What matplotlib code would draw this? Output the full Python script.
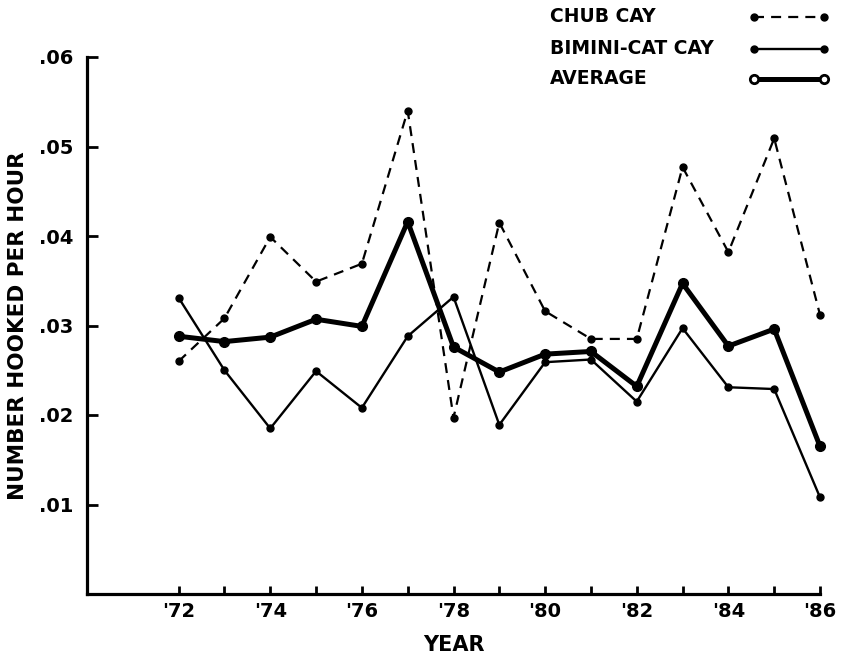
import numpy as np
import matplotlib
matplotlib.use("Agg")
import matplotlib.pyplot as plt
from matplotlib.lines import Line2D

# values
years = np.arange(1972, 1987)
chub_cay = [0.0260, 0.0308, 0.0399, 0.0349, 0.0369, 0.0540, 0.0197, 0.0415,
            0.0316, 0.0285, 0.0285, 0.0477, 0.0382, 0.0509, 0.0312]
bimini_cat_cay = [0.0331, 0.0250, 0.0185, 0.0249, 0.0208, 0.0288, 0.0332, 0.0189,
                  0.0259, 0.0262, 0.0215, 0.0297, 0.0231, 0.0229, 0.0108]
average = [0.0288, 0.0282, 0.0287, 0.0307, 0.0299, 0.0416, 0.0276, 0.0248,
           0.0268, 0.0271, 0.0232, 0.0347, 0.0277, 0.0296, 0.0165]
y_ticks = [0.01, 0.02, 0.03, 0.04, 0.05, 0.06]
y_labels = [".01", ".02", ".03", ".04", ".05", ".06"]
x_label_years = [1972, 1974, 1976, 1978, 1980, 1982, 1984, 1986]
legend_names = ["CHUB CAY", "BIMINI-CAT CAY", "AVERAGE"]

W, H = 841, 663
fig = plt.figure(figsize=(W / 100, H / 100), dpi=100)
ax = fig.add_axes([87 / W, 1 - 594 / H, (820 - 87) / W, (594 - 57) / H])

ax.plot(years, chub_cay, color="black", lw=1.6, ls=(0, (4.5, 3.2)),
        marker="o", ms=5, clip_on=False)
ax.plot(years, bimini_cat_cay, color="black", lw=1.7,
        marker="o", ms=5, clip_on=False)
ax.plot(years, average, color="black", lw=3.6,
        marker="o", ms=7, clip_on=False)

ax.set_xlim(1970.0, 1986)
ax.set_ylim(0, 0.06)

for s in ["top", "right"]:
    ax.spines[s].set_visible(False)
for s in ["left", "bottom"]:
    ax.spines[s].set_linewidth(2.3)

ax.set_yticks(y_ticks)
ax.set_yticklabels(y_labels, fontsize=14, fontweight="bold")
ax.set_xticks(years)
ax.set_xticklabels(["'" + str(y)[2:] if y in x_label_years else "" for y in years],
                   fontsize=14, fontweight="bold")
ax.tick_params(axis="y", direction="in", length=8, width=2, pad=10)
ax.tick_params(axis="x", direction="in", length=6, width=2, pad=6)

ax.set_xlabel("YEAR", fontsize=15, fontweight="bold", labelpad=10)
ax.set_ylabel("NUMBER HOOKED PER HOUR", fontsize=15.5, fontweight="bold",
              labelpad=8)

# legend drawn by hand: names on the left, line samples on the right
rows_y = [17, 49, 79]
styles = [dict(lw=1.6, ls=(0, (4.5, 3.2)), marker="o", ms=5, mfc="black"),
          dict(lw=1.7, ls="-", marker="o", ms=5, mfc="black"),
          dict(lw=3.6, ls="-", marker="o", ms=6, mfc="white", mew=2)]
weights = ["semibold", "semibold", "bold"]
for name, ry, st, fw in zip(legend_names, rows_y, styles, weights):
    fig.text(550 / W, 1 - ry / H, name, fontsize=13.5,
             fontweight=fw, va="center", ha="left")
    fig.add_artist(Line2D([754 / W, 824 / W], [1 - ry / H, 1 - ry / H],
                          color="black", mec="black", **st))

fig.savefig("out.png", dpi=100)
